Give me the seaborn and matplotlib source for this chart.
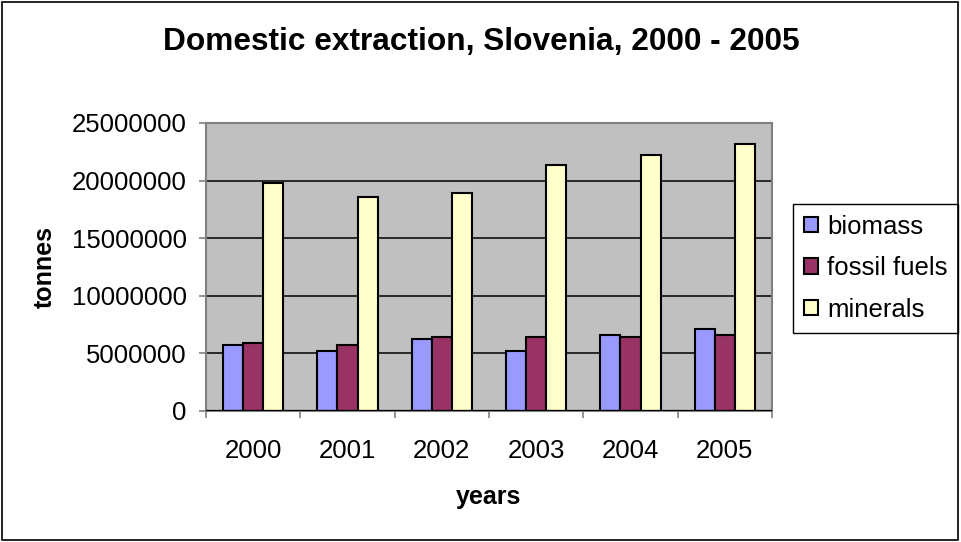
import matplotlib
matplotlib.use("Agg")
import matplotlib.pyplot as plt
from matplotlib.patches import Rectangle
from matplotlib.ticker import FixedLocator
import pandas as pd
import seaborn as sns

# Domestic extraction in Slovenia, tonnes per year and material group
years = ["2000", "2001", "2002", "2003", "2004", "2005"]
biomass = [5710000, 5190000, 6260000, 5190000, 6580000, 7100000]
fossil_fuels = [5890000, 5710000, 6410000, 6410000, 6410000, 6580000]
minerals = [19800000, 18580000, 18960000, 21370000, 22230000, 23160000]
series_names = ["biomass", "fossil fuels", "minerals"]
series_colors = ["#9999FF", "#993366", "#FFFFCC"]
y_ticks = [0, 5000000, 10000000, 15000000, 20000000, 25000000]

df = pd.DataFrame({
    "year": years * 3,
    "value": biomass + fossil_fuels + minerals,
    "material": [series_names[0]] * 6 + [series_names[1]] * 6 + [series_names[2]] * 6,
})

sns.set_theme(style="white")
plt.rcParams["font.family"] = ["Liberation Sans", "DejaVu Sans"]
plt.rcParams.update({
    "text.color": "black",
    "axes.labelcolor": "black",
    "xtick.labelcolor": "black",
    "ytick.labelcolor": "black",
})

fig = plt.figure(figsize=(9.62, 5.42), dpi=100)
ax = fig.add_axes([206 / 962, 1 - 411 / 542, 566 / 962, 288 / 542])
ax.set_facecolor("#C0C0C0")

sns.barplot(
    data=df, x="year", y="value", hue="material", order=years,
    hue_order=series_names, palette=series_colors, width=0.64,
    edgecolor="black", linewidth=1.5, saturation=1, ax=ax, zorder=3,
    legend=True,
)

ax.set_ylim(0, 25000000)
ax.set_xlim(-0.5, 5.5)
ax.yaxis.set_major_locator(FixedLocator(y_ticks))
ax.set_yticklabels([str(v) for v in y_ticks])

# horizontal gridlines in black
for v in y_ticks[1:-1]:
    ax.axhline(v, color="black", linewidth=1.1, zorder=1)
ax.axhline(0, color="black", linewidth=1.6, zorder=4)

for side in ["left", "top", "right", "bottom"]:
    ax.spines[side].set_visible(True)
    ax.spines[side].set_color("#808080")
    ax.spines[side].set_linewidth(1.5)

ax.tick_params(axis="y", direction="out", length=5, width=1.2, color="#808080",
               labelsize=18.5, labelcolor="black", pad=9, left=True)
ax.tick_params(axis="x", which="major", length=0, labelsize=18.5,
               labelcolor="black", pad=20)
ax.xaxis.set_minor_locator(FixedLocator([i - 0.5 for i in range(len(years) + 1)]))
ax.tick_params(axis="x", which="minor", direction="out", length=5, width=1.2,
               color="#808080", bottom=True)

ax.set_xlabel("years", fontsize=18, fontweight="bold", color="black")
ax.set_ylabel("tonnes", fontsize=18, fontweight="bold", color="black")
ax.xaxis.set_label_coords(0.5, (411 - 497) / 288)
ax.xaxis.label.set_va("center")
ax.yaxis.set_label_coords((45 - 206) / 566, 0.5)
ax.yaxis.label.set_va("center")

fig.text(0.5, 1 - 42 / 542, "Domestic extraction, Slovenia, 2000 - 2005",
         ha="center", va="center", fontsize=22.8, fontweight="bold",
         color="black")

handles, labels = ax.get_legend_handles_labels()
ax.legend(
    handles, labels, loc="upper left",
    bbox_to_anchor=(793 / 962, 1 - 204 / 542), bbox_transform=fig.transFigure,
    borderaxespad=0, fontsize=18.5, frameon=True, fancybox=False, shadow=False,
    edgecolor="black", facecolor="white", framealpha=1,
    handlelength=0.55, handleheight=0.55, handletextpad=0.35,
    labelspacing=0.68, borderpad=0.42,
)
ax.get_legend().get_frame().set_linewidth(1.0)

# thin outer border around the chart area
fig.patches.append(Rectangle((2 / 962, 2 / 542), 956 / 962, 538 / 542,
                             transform=fig.transFigure, fill=False,
                             edgecolor="black", linewidth=1.2))

fig.savefig("out.png", dpi=100, facecolor="white")
